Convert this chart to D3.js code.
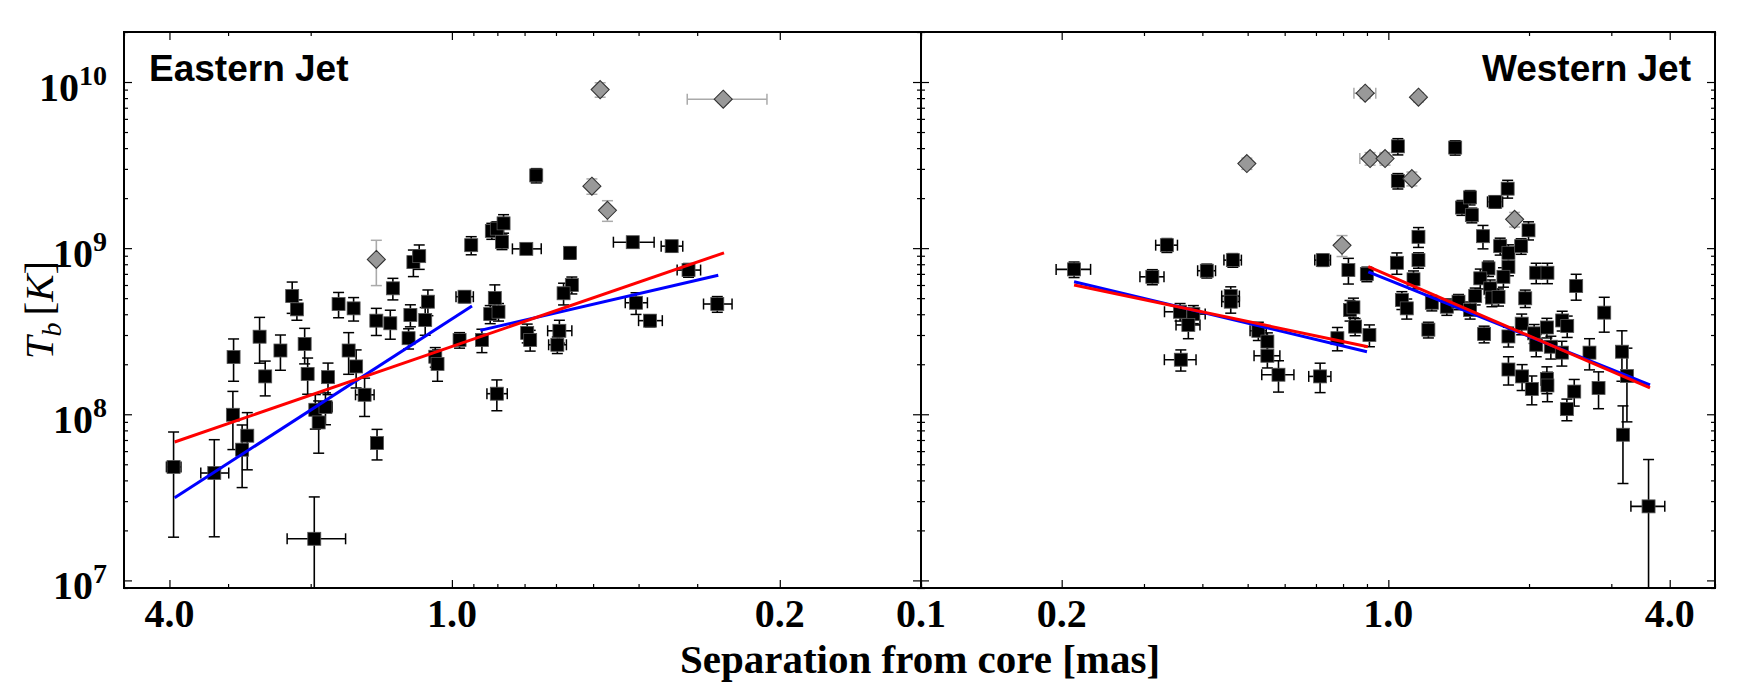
<!DOCTYPE html>
<html>
<head>
<meta charset="utf-8">
<script src="https://cdn.jsdelivr.net/npm/d3@7"></script>
<style>
  body { margin: 0; background: #fff; }
  svg { display: block; }
</style>
</head>
<body>
<svg id="chart" width="1754" height="698"></svg>
<script>
// each point: [separation (mas), Tb (K), separation error, Tb error]
const eastSquares = [
  [3.92, 4.82e7, 0.14, 3.0e7], [3.21, 4.43e7, 0.22, 2.6e7], [2.93, 9.93e7, 0, 3.8e7],
  [2.92, 2.21e8, 0, 6.3e7], [2.80, 6.12e7, 0, 2.5e7], [2.73, 7.43e7, 0.06, 2.8e7],
  [2.57, 2.93e8, 0, 9.0e7], [2.50, 1.69e8, 0, 4.0e7], [2.32, 2.42e8, 0, 5.8e7],
  [2.19, 5.15e8, 0, 1.1e8], [2.14, 4.28e8, 0, 6.0e7], [2.06, 2.65e8, 0, 6.4e7],
  [2.03, 1.75e8, 0, 4.3e7], [1.955, 1.064e8, 0, 2.5e7], [1.923, 8.93e7, 0, 3.1e7],
  [1.86, 1.105e8, 0.06, 2.4e7], [1.837, 1.673e8, 0, 3.6e7], [1.965, 1.78e7, 0.28, 1.4e7],
  [1.744, 4.61e8, 0, 8.0e7], [1.62, 4.34e8, 0, 7.0e7], [1.66, 2.42e8, 0, 6.8e7],
  [1.60, 1.94e8, 0, 5.0e7], [1.535, 1.31e8, 0.07, 3.4e7], [1.449, 3.66e8, 0, 6.8e7],
  [1.444, 6.71e7, 0, 1.4e7], [1.353, 3.53e8, 0, 7.0e7], [1.336, 5.73e8, 0, 8.5e7],
  [1.226, 3.96e8, 0, 6.0e7], [1.237, 2.87e8, 0, 4.0e7], [1.208, 8.24e8, 0, 1.5e8],
  [1.174, 8.95e8, 0, 1.5e8], [1.14, 3.69e8, 0, 7.0e7], [1.125, 4.76e8, 0, 8.4e7],
  [1.085, 2.22e8, 0, 3.0e7], [1.073, 2.01e8, 0, 4.3e7], [0.963, 2.80e8, 0, 3.0e7],
  [0.94, 5.10e8, 0.04, 4.0e7], [0.9095, 1.042e9, 0, 1.3e8], [0.863, 2.80e8, 0, 4.5e7],
  [0.822, 1.27e9, 0, 1.4e8], [0.802, 1.31e9, 0, 1.3e8], [0.776, 1.41e9, 0, 1.8e8],
  [0.782, 1.09e9, 0, 1.1e8], [0.81, 5.01e8, 0, 1.0e8], [0.8285, 4.01e8, 0, 5.0e7],
  [0.7955, 4.14e8, 0, 5.0e7], [0.802, 1.33e8, 0.04, 2.8e7], [0.661, 2.74e9, 0, 2.7e8],
  [0.694, 9.9e8, 0.049, 7.0e7], [0.56, 9.37e8, 0, 8.0e7], [0.4116, 1.086e9, 0.041, 8.0e7],
  [0.34, 1.028e9, 0.018, 8.0e7], [0.313, 7.38e8, 0.018, 7.0e7], [0.2718, 4.61e8, 0.019, 5.0e7],
  [0.555, 6.0e8, 0, 7.0e7], [0.578, 5.35e8, 0, 8.0e7], [0.405, 4.69e8, 0.022, 7.0e7],
  [0.691, 3.09e8, 0, 4.0e7], [0.681, 2.80e8, 0, 4.0e7], [0.59, 3.18e8, 0.035, 5.0e7],
  [0.596, 2.62e8, 0.026, 3.0e7], [0.378, 3.66e8, 0.022, 3.0e7]
];
const eastDiamonds = [
  [1.449, 8.55e8, 0, 2.6e8], [0.483, 9.0e9, 0, 9e8], [0.264, 7.88e9, 0.051, 4e8],
  [0.503, 2.36e9, 0, 2.5e8], [0.466, 1.69e9, 0, 2.4e8]
];
const westSquares = [
  [0.2126, 7.45e8, 0.018, 8e7], [0.3358, 1.042e9, 0.018, 1e8], [0.3126, 6.72e8, 0.0185, 7e7],
  [0.4088, 7.31e8, 0.018, 7e7], [0.4648, 8.47e8, 0.02, 8e7], [0.724, 8.47e8, 0.028, 7e7],
  [0.46, 5.15e8, 0.02, 7e7], [0.46, 4.76e8, 0.02, 7e7], [0.3584, 4.14e8, 0.0265, 5e7],
  [0.3826, 4.01e8, 0.023, 5e7], [0.3733, 3.45e8, 0.022, 6e7], [0.3597, 2.13e8, 0.028, 3.1e7],
  [0.527, 3.18e8, 0.021, 4e7], [0.551, 2.74e8, 0, 3.5e7], [0.551, 2.25e8, 0.035, 3.5e7],
  [0.582, 1.73e8, 0.046, 3.7e7], [0.7145, 1.69e8, 0.039, 3.4e7], [0.778, 2.87e8, 0, 4.6e7],
  [0.828, 4.24e8, 0, 6e7], [0.842, 4.40e8, 0, 6e7], [0.849, 3.37e8, 0, 4e7],
  [0.911, 3.0e8, 0, 4.5e7], [0.8214, 7.38e8, 0, 1.3e8], [0.8995, 6.98e8, 0.02, 7e7],
  [1.043, 8.16e8, 0, 1.2e8], [1.16, 1.17e9, 0, 1.6e8], [1.16, 8.47e8, 0, 9e7],
  [1.132, 6.49e8, 0, 8e7], [1.048, 4.10e9, 0, 4.6e8], [1.39, 4.03e9, 0, 4e8],
  [1.048, 2.54e9, 0, 2.7e8], [1.437, 1.755e9, 0, 1.8e8], [1.496, 2.02e9, 0, 2e8],
  [1.509, 1.58e9, 0, 1.6e8], [1.693, 1.90e9, 0.063, 1.6e8], [1.80, 2.28e9, 0, 2.8e8],
  [1.995, 1.28e9, 0, 1.6e8], [1.594, 1.18e9, 0, 1.9e8], [1.735, 1.028e9, 0, 1.2e8],
  [1.807, 9.37e8, 0, 1.1e8], [1.924, 1.028e9, 0, 1.1e8], [1.638, 7.55e8, 0, 8e7],
  [1.573, 6.58e8, 0, 9e7], [1.807, 7.72e8, 0, 9e7], [1.763, 6.72e8, 0, 9e7],
  [2.072, 7.11e8, 0, 1e8], [2.19, 7.11e8, 0, 1e8], [2.523, 5.91e8, 0, 1.05e8],
  [1.652, 5.73e8, 0, 7e7], [1.666, 5.04e8, 0, 6e7], [1.721, 5.08e8, 0, 6e7],
  [1.069, 4.87e8, 0, 6e7], [1.095, 4.34e8, 0, 6e7], [1.239, 4.69e8, 0, 5e7],
  [1.334, 4.44e8, 0, 5e7], [1.413, 4.76e8, 0, 5e7], [1.496, 4.24e8, 0, 5e7],
  [1.534, 5.15e8, 0, 6e7], [1.218, 3.23e8, 0, 3.5e7], [1.603, 3.04e8, 0, 3.5e7],
  [1.963, 4.99e8, 0, 6e7], [1.807, 2.94e8, 0, 4e7], [1.929, 3.51e8, 0, 5e7],
  [2.051, 3.07e8, 0, 4e7], [2.072, 2.62e8, 0, 4e7], [2.184, 3.33e8, 0, 4.5e7],
  [2.227, 2.55e8, 0, 4e7], [2.355, 3.67e8, 0, 5e7], [2.414, 3.40e8, 0, 5e7],
  [2.351, 2.35e8, 0, 4e7], [1.807, 1.86e8, 0, 3.6e7], [1.933, 1.69e8, 0, 3e7],
  [2.028, 1.42e8, 0, 2.8e7], [2.184, 1.63e8, 0, 3e7], [2.19, 1.49e8, 0, 3e7],
  [2.41, 1.074e8, 0, 1.6e7], [2.499, 1.37e8, 0, 2.5e7], [2.694, 2.35e8, 0, 5e7],
  [2.817, 1.44e8, 0, 3.6e7], [2.897, 4.09e8, 0, 9.7e7], [3.161, 2.38e8, 0, 8e7],
  [3.24, 1.70e8, 0, 8e7], [3.177, 7.53e7, 0, 3.7e7], [3.604, 2.79e7, 0.30, 2.55e7]
];
const westDiamonds = [
  [0.498, 3.23e9, 0, 2.5e8], [0.892, 8.56e9, 0.048, 6e8], [1.16, 8.1e9, 0, 5e8],
  [0.914, 3.46e9, 0.045, 3e8], [0.984, 3.46e9, 0, 3e8], [1.123, 2.62e9, 0, 2.5e8],
  [1.863, 1.49e9, 0, 1.5e8], [0.796, 1.04e9, 0, 1.5e8]
];

// power-law fits, end points [separation, Tb]
const eastBlueFits = [[[3.90, 3.14e7], [0.906, 4.49e8]], [[0.87, 3.2e8], [0.2705, 6.86e8]]];
const eastRedFits = [[[3.90, 6.81e7], [0.263, 9.37e8]]];
const westBlueFits = [[[0.2126, 6.28e8], [0.90, 2.38e8]], [[0.906, 7.2e8], [3.63, 1.5e8]]];
const westRedFits = [[[0.2126, 6.0e8], [0.904, 2.55e8]], [[0.906, 7.73e8], [3.63, 1.44e8]]];

const yTicks = [1e7, 1e8, 1e9, 1e10];
const eastTicks = [4.0, 1.0, 0.2, 0.1];
const westTicks = [0.2, 1.0, 4.0];

const svg = d3.select('#chart');
const plotTop = 32, plotBottom = 588;

const y = d3.scaleLog().domain([9e6, 2e10]).range([plotBottom, plotTop]);
const xEast = d3.scaleLog().domain([5, 0.1]).range([124, 921]);
const xWest = d3.scaleLog().domain([0.1, 5]).range([921, 1715]);

const serif = '"Liberation Serif", "Times New Roman", serif';
const fmt = d3.format('.1f');

function ticksOn(g, axis, tr) {
  g.append('g').attr('transform', tr).call(axis)
    .call(s => s.select('.domain').remove())
    .call(s => s.selectAll('line').attr('stroke', '#000').attr('stroke-width', 1.2));
}

function drawPanel(id, x, squares, diamonds, blueFits, redFits, major, labelTicks) {
  const [x0, x1] = x.range();
  const left = Math.min(x0, x1), right = Math.max(x0, x1);
  const g = svg.append('g');

  g.append('clipPath').attr('id', 'clip' + id)
    .append('rect').attr('x', left).attr('y', plotTop)
    .attr('width', right - left).attr('height', plotBottom - plotTop);

  const plot = g.append('g').attr('clip-path', `url(#clip${id})`);

  function errorBars(layer, data, color) {
    data.forEach(d => {
      const cx = x(d[0]), cy = y(d[1]);
      const yHi = y(d[1] + d[3]);
      const yLo = y(Math.max(d[1] - d[3], 1e6));
      layer.append('line').attr('x1', cx).attr('x2', cx).attr('y1', yHi).attr('y2', yLo)
        .attr('stroke', color).attr('stroke-width', 1.6);
      [yHi, yLo].forEach(v => layer.append('line')
        .attr('x1', cx - 5.5).attr('x2', cx + 5.5).attr('y1', v).attr('y2', v)
        .attr('stroke', color).attr('stroke-width', 1.5));
      if (d[2] > 0) {
        const xa = x(d[0] - d[2]), xb = x(d[0] + d[2]);
        layer.append('line').attr('x1', xa).attr('x2', xb).attr('y1', cy).attr('y2', cy)
          .attr('stroke', color).attr('stroke-width', 1.6);
        [xa, xb].forEach(v => layer.append('line')
          .attr('x1', v).attr('x2', v).attr('y1', cy - 5.5).attr('y2', cy + 5.5)
          .attr('stroke', color).attr('stroke-width', 1.5));
      }
    });
  }

  const sq = plot.append('g');
  errorBars(sq, squares, '#000');
  sq.selectAll('rect.pt').data(squares).join('rect').attr('class', 'pt')
    .attr('x', d => x(d[0]) - 6.5).attr('y', d => y(d[1]) - 6.5)
    .attr('width', 13).attr('height', 13)
    .attr('fill', '#000').attr('stroke', '#555').attr('stroke-width', 0.8);

  const dm = plot.append('g');
  errorBars(dm, diamonds, '#aaaaaa');
  dm.selectAll('path.pt').data(diamonds).join('path').attr('class', 'pt')
    .attr('d', d => {
      const cx = x(d[0]), cy = y(d[1]);
      return `M${cx},${cy - 9}L${cx + 9},${cy}L${cx},${cy + 9}L${cx - 9},${cy}Z`;
    })
    .attr('fill', '#999999').attr('stroke', '#333').attr('stroke-width', 1.1);

  const line = d3.line().x(d => x(d[0])).y(d => y(d[1]));
  blueFits.forEach(f => plot.append('path').attr('d', line(f))
    .attr('fill', 'none').attr('stroke', '#0000ff').attr('stroke-width', 3));
  redFits.forEach(f => plot.append('path').attr('d', line(f))
    .attr('fill', 'none').attr('stroke', '#ff0000').attr('stroke-width', 3));

  // ticks, all pointing inwards
  const minorX = x.ticks().filter(v => !major.some(m => Math.abs(m - v) < 1e-9));
  const minorY = y.ticks().filter(v => !yTicks.some(m => Math.abs(m - v) / m < 1e-9));
  ticksOn(g, d3.axisBottom(x).tickValues(major).tickSize(-8).tickFormat(''), `translate(0,${plotBottom})`);
  ticksOn(g, d3.axisBottom(x).tickValues(minorX).tickSize(-4).tickFormat(''), `translate(0,${plotBottom})`);
  ticksOn(g, d3.axisTop(x).tickValues(major).tickSize(-8).tickFormat(''), `translate(0,${plotTop})`);
  ticksOn(g, d3.axisTop(x).tickValues(minorX).tickSize(-4).tickFormat(''), `translate(0,${plotTop})`);
  ticksOn(g, d3.axisLeft(y).tickValues(yTicks).tickSize(-8).tickFormat(''), `translate(${left},0)`);
  ticksOn(g, d3.axisLeft(y).tickValues(minorY).tickSize(-4).tickFormat(''), `translate(${left},0)`);
  ticksOn(g, d3.axisRight(y).tickValues(yTicks).tickSize(-8).tickFormat(''), `translate(${right},0)`);
  ticksOn(g, d3.axisRight(y).tickValues(minorY).tickSize(-4).tickFormat(''), `translate(${right},0)`);

  g.append('rect').attr('x', left).attr('y', plotTop)
    .attr('width', right - left).attr('height', plotBottom - plotTop)
    .attr('fill', 'none').attr('stroke', '#000').attr('stroke-width', 2);

  g.selectAll('text.xt').data(labelTicks).join('text').attr('class', 'xt')
    .attr('x', d => x(d)).attr('y', 627)
    .attr('text-anchor', 'middle')
    .style('font-family', serif).style('font-weight', 'bold').style('font-size', '40px')
    .text(d => fmt(d));
  return g;
}

drawPanel('E', xEast, eastSquares, eastDiamonds, eastBlueFits, eastRedFits, eastTicks, eastTicks);
drawPanel('W', xWest, westSquares, westDiamonds, westBlueFits, westRedFits, westTicks, westTicks);

const sans = '"Liberation Sans", Arial, sans-serif';
svg.append('text').attr('x', 149).attr('y', 81)
  .style('font-family', sans).style('font-weight', 'bold').style('font-size', '37px')
  .text('Eastern Jet');
svg.append('text').attr('x', 1691).attr('y', 81).attr('text-anchor', 'end')
  .style('font-family', sans).style('font-weight', 'bold').style('font-size', '37px')
  .text('Western Jet');

// y tick labels 10^n
yTicks.forEach(v => {
  const t = svg.append('text').attr('x', 107).attr('y', y(v) + 19)
    .attr('text-anchor', 'end')
    .style('font-family', serif).style('font-weight', 'bold').style('font-size', '40px');
  t.append('tspan').text('10');
  t.append('tspan').attr('dy', -16).style('font-size', '28px').text(Math.round(Math.log10(v)));
});

// y axis title
const yt = svg.append('text')
  .attr('transform', `translate(53,${(plotTop + plotBottom) / 2}) rotate(-90)`)
  .attr('text-anchor', 'middle')
  .style('font-family', serif).style('font-size', '41px');
yt.append('tspan').style('font-style', 'italic').text('T');
yt.append('tspan').style('font-style', 'italic').style('font-size', '28px').attr('dy', 8).text('b');
yt.append('tspan').attr('dy', -8).attr('dx', 7).text('[');
yt.append('tspan').style('font-style', 'italic').text('K');
yt.append('tspan').text(']');

svg.append('text').attr('x', 920).attr('y', 673).attr('text-anchor', 'middle')
  .style('font-family', serif).style('font-weight', 'bold').style('font-size', '41px')
  .text('Separation from core [mas]');
</script>
</body>
</html>
